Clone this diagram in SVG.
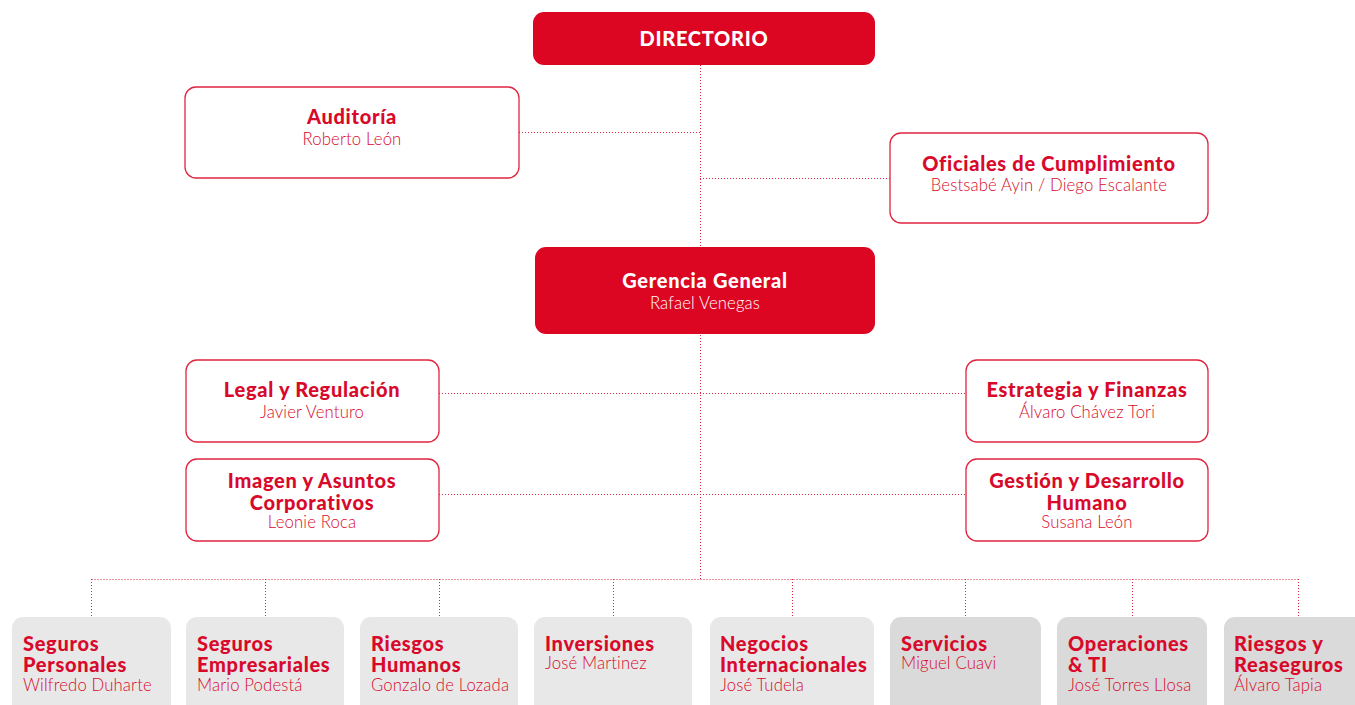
<svg xmlns="http://www.w3.org/2000/svg" width="1355" height="705" viewBox="0 0 1355 705">
<style>
.bg{fill:#ffffff}
.solid{fill:#dc0623}
.out{fill:#ffffff;stroke:#e0253f;stroke-width:1.3}
.g1{fill:#e8e8e8}
.g2{fill:#dadada}
.t{font-family:Lato,"Liberation Sans",sans-serif;font-weight:900;font-size:20px;letter-spacing:0.7px}
.n{font-family:Lato,"Liberation Sans",sans-serif;font-weight:300;font-size:16.7px;letter-spacing:0.15px}
.w{fill:#ffffff;text-anchor:middle}
.r{fill:#d8092b;text-anchor:middle}
.l{fill:#d8092b}
.dot{stroke:#e0253f;stroke-width:1;stroke-dasharray:1 2;fill:none}
</style>
<rect class="bg" width="1355" height="705"/>
<g id="connectors">
<path class="dot" d="M700.5 65 V579"/>
<path class="dot" d="M519 132.5 H700"/>
<path class="dot" d="M700 178.5 H890"/>
<path class="dot" d="M439 393.5 H966"/>
<path class="dot" d="M439 494.5 H966"/>
<path class="dot" d="M91.5 579.5 H1298.5"/>
<path class="dot" d="M91.5 579 V617 M265.5 579 V617 M439.5 579 V617 M613.5 579 V617 M792.5 579 V617 M965.5 579 V617 M1132.5 579 V617 M1298.5 579 V617"/>
</g>
<g id="directorio">
<rect class="solid" x="533" y="12" width="342" height="53" rx="11"/>
<text class="t w" x="704" y="46">DIRECTORIO</text>
</g>
<g id="auditoria">
<rect class="out" x="185" y="87" width="334" height="91" rx="11"/>
<text class="t r" x="352" y="124">Auditoría</text>
<text class="n r" x="352" y="145">Roberto León</text>
</g>
<g id="oficiales">
<rect class="out" x="890" y="133" width="318" height="90" rx="11"/>
<text class="t r" x="1049" y="171">Oficiales de Cumplimiento</text>
<text class="n r" x="1049" y="191">Bestsabé Ayin / Diego Escalante</text>
</g>
<g id="gerencia">
<rect class="solid" x="535" y="247" width="340" height="87" rx="11"/>
<text class="t w" x="705" y="288">Gerencia General</text>
<text class="n w" x="705" y="309">Rafael Venegas</text>
</g>
<g id="legal">
<rect class="out" x="186" y="360" width="253" height="82" rx="11"/>
<text class="t r" x="312" y="397">Legal y Regulación</text>
<text class="n r" x="312" y="418">Javier Venturo</text>
</g>
<g id="imagen">
<rect class="out" x="186" y="459" width="253" height="82" rx="11"/>
<text class="t r" x="312" y="488">Imagen y Asuntos</text>
<text class="t r" x="312" y="510">Corporativos</text>
<text class="n r" x="312" y="528">Leonie Roca</text>
</g>
<g id="estrategia">
<rect class="out" x="966" y="360" width="242" height="82" rx="11"/>
<text class="t r" x="1087" y="397">Estrategia y Finanzas</text>
<text class="n r" x="1087" y="418">Álvaro Chávez Tori</text>
</g>
<g id="gestion">
<rect class="out" x="966" y="459" width="242" height="82" rx="11"/>
<text class="t r" x="1087" y="488">Gestión y Desarrollo</text>
<text class="t r" x="1087" y="510">Humano</text>
<text class="n r" x="1087" y="528">Susana León</text>
</g>
<g id="seguros-personales">
<rect class="g1" x="12" y="617" width="159" height="110" rx="11"/>
<text class="t l" x="23" y="651">Seguros</text>
<text class="t l" x="23" y="672">Personales</text>
<text class="n l" x="23" y="691">Wilfredo Duharte</text>
</g>
<g id="seguros-empresariales">
<rect class="g1" x="186" y="617" width="158" height="110" rx="11"/>
<text class="t l" x="197" y="651">Seguros</text>
<text class="t l" x="197" y="672">Empresariales</text>
<text class="n l" x="197" y="691">Mario Podestá</text>
</g>
<g id="riesgos-humanos">
<rect class="g1" x="360" y="617" width="158" height="110" rx="11"/>
<text class="t l" x="371" y="651">Riesgos</text>
<text class="t l" x="371" y="672">Humanos</text>
<text class="n l" x="371" y="691">Gonzalo de Lozada</text>
</g>
<g id="inversiones">
<rect class="g1" x="534" y="617" width="158" height="110" rx="11"/>
<text class="t l" x="545" y="651">Inversiones</text>
<text class="n l" x="545" y="669">José Martinez</text>
</g>
<g id="negocios-internacionales">
<rect class="g1" x="710" y="617" width="164" height="110" rx="11"/>
<text class="t l" x="720" y="651">Negocios</text>
<text class="t l" x="720" y="672">Internacionales</text>
<text class="n l" x="720" y="691">José Tudela</text>
</g>
<g id="servicios">
<rect class="g2" x="890" y="617" width="151" height="110" rx="11"/>
<text class="t l" x="901" y="651">Servicios</text>
<text class="n l" x="901" y="669">Miguel Cuavi</text>
</g>
<g id="operaciones">
<rect class="g2" x="1057" y="617" width="150" height="110" rx="11"/>
<text class="t l" x="1068" y="651">Operaciones</text>
<text class="t l" x="1068" y="672">&amp; TI</text>
<text class="n l" x="1068" y="691">José Torres Llosa</text>
</g>
<g id="riesgos-reaseguros">
<rect class="g2" x="1224" y="617" width="150" height="110" rx="11"/>
<text class="t l" x="1234" y="651">Riesgos y</text>
<text class="t l" x="1234" y="672">Reaseguros</text>
<text class="n l" x="1234" y="691">Álvaro Tapia</text>
</g>
</svg>
